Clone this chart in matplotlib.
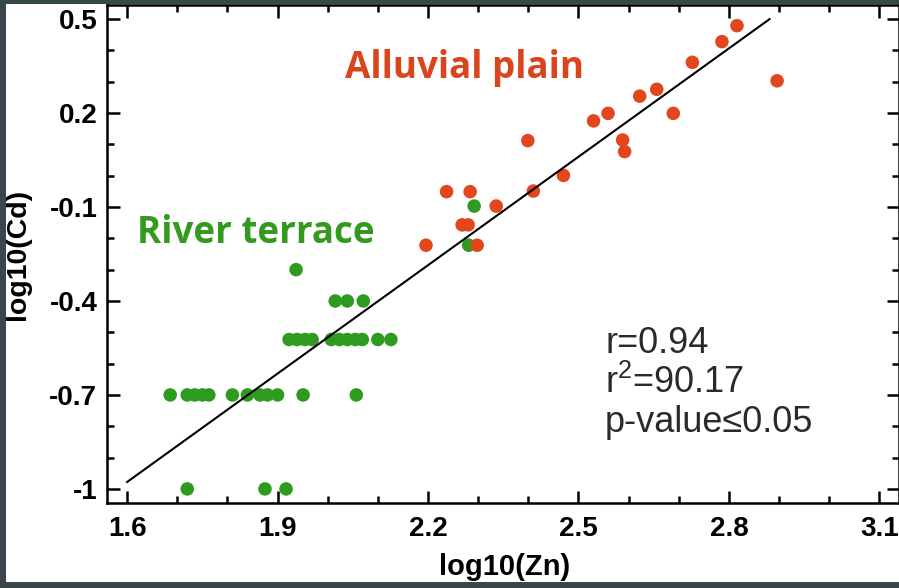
import numpy as np
import matplotlib
matplotlib.use("Agg")
import matplotlib.pyplot as plt
from matplotlib.patches import Rectangle

# River terrace samples (green)
terrace_zn = [1.686, 1.72, 1.735, 1.75, 1.763, 1.81, 1.84, 1.865, 1.88, 1.90, 1.951, 2.057,
              1.72, 1.875, 1.917,
              1.923, 1.939, 1.955, 1.969, 2.007, 2.023, 2.039, 2.055, 2.069, 2.10, 2.126,
              2.015, 2.039, 2.071,
              1.937, 2.292, 2.281]
terrace_cd = [-0.7, -0.7, -0.7, -0.7, -0.7, -0.7, -0.7, -0.7, -0.7, -0.7, -0.7, -0.7,
              -1.0, -1.0, -1.0,
              -0.523, -0.523, -0.523, -0.523, -0.523, -0.523, -0.523, -0.523, -0.523, -0.523, -0.523,
              -0.4, -0.4, -0.4,
              -0.3, -0.097, -0.222]

# Alluvial plain samples (orange)
plain_zn = [2.237, 2.284, 2.336, 2.268, 2.28, 2.196, 2.298, 2.399, 2.410, 2.470,
            2.530, 2.559, 2.588, 2.592, 2.622, 2.656, 2.689, 2.727, 2.786, 2.816, 2.896]
plain_cd = [-0.051, -0.051, -0.097, -0.157, -0.157, -0.222, -0.222, 0.112, -0.049, 0.001,
            0.175, 0.199, 0.114, 0.077, 0.254, 0.276, 0.199, 0.362, 0.428, 0.479, 0.303]

# regression line end points
fit_x = [1.6, 2.881]
fit_y = [-0.978, 0.5]

xticks = [1.6, 1.9, 2.2, 2.5, 2.8, 3.1]
xlabels = ["1.6", "1.9", "2.2", "2.5", "2.8", "3.1"]
yticks = [-1.0, -0.7, -0.4, -0.1, 0.2, 0.5]
ylabels = ["-1", "-0.7", "-0.4", "-0.1", "0.2", "0.5"]

green = "#2e9a1f"
orange = "#e2461c"
frame = "#37474a"

plt.rcParams["font.family"] = ["Liberation Sans", "DejaVu Sans"]

fig = plt.figure(figsize=(8.99, 5.88), dpi=100, facecolor=frame)
fig.patches.append(Rectangle((6 / 899, 6 / 588), 1, 1 - 10 / 588, transform=fig.transFigure,
                             facecolor="white", edgecolor="none", zorder=-10))

ax = fig.add_axes([107 / 899, 85 / 588, 792 / 899, 498 / 588])
ax.set_facecolor("white")

ax.scatter(terrace_zn, terrace_cd, s=95, color=green, edgecolors="none", zorder=3)
ax.scatter(plain_zn, plain_cd, s=95, color=orange, edgecolors="none", zorder=4)
ax.plot(fit_x, fit_y, color="black", lw=1.5, zorder=5)

ax.set_xlim(1.56, 3.139)
ax.set_ylim(-1.045, 0.545)
ax.set_xticks(xticks)
ax.set_xticklabels(xlabels, fontweight="bold", fontsize=20)
ax.set_yticks(yticks)
ax.set_yticklabels(ylabels, fontweight="bold", fontsize=20)
ax.set_xticks(np.arange(1.6, 3.15, 0.1), minor=True)
ax.set_yticks(np.arange(-1.0, 0.55, 0.1), minor=True)
ax.tick_params(which="both", direction="in", top=True, right=True, width=1.8)
ax.tick_params(which="major", length=9)
ax.tick_params(which="minor", length=5)
ax.tick_params(axis="x", which="major", pad=9)
ax.tick_params(axis="y", which="major", pad=7)
for sp in ax.spines.values():
    sp.set_linewidth(1.8)

fig.text(505 / 899, 1 - 575 / 588, "log10(Zn)", fontweight="bold", fontsize=21,
         ha="center", va="baseline")
fig.text(18 / 899, 1 - 254 / 588, "log10(Cd)", fontweight="bold", fontsize=20.5,
         rotation=90, ha="center", va="center")

ax.text(2.035, 0.312, "Alluvial plain", color="#d9461e", fontsize=26.5, fontweight="bold",
        family=["Open Sans"], ha="left", va="baseline")
ax.text(1.62, -0.215, "River terrace", color="#33991f", fontsize=26.5, fontweight="bold",
        family=["Open Sans"], ha="left", va="baseline")

ax.text(2.553, -0.566, "r=0.94", fontsize=26, color="#2a2a2a", va="baseline")
ax.text(2.553, -0.694, r"r$^{\mathregular{2}}$=90.17", fontsize=26, color="#2a2a2a", va="baseline")
ax.text(2.553, -0.818, "p-value≤0.05", fontsize=26, color="#2a2a2a", va="baseline")

fig.savefig("out.png", dpi=100, facecolor=frame)
